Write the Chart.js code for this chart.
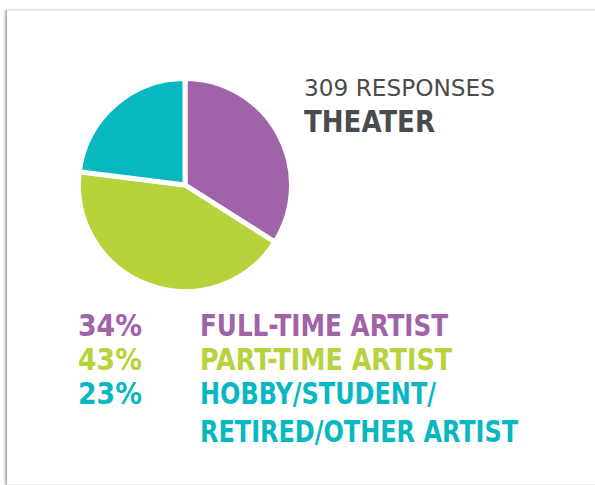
<!DOCTYPE html>
<html>
<head>
<meta charset="utf-8">
<script src="https://cdn.jsdelivr.net/npm/chart.js@4.4.0/dist/chart.umd.min.js"></script>
<style>
  html, body { margin: 0; padding: 0; background: #fff; }
  body { width: 595px; height: 485px; position: relative; overflow: hidden; }
  .card {
    position: absolute; left: 7px; top: 10px; width: 620px; height: 473px;
    background: #fff; border-top: 1px solid #eee; border-bottom: 1px solid #eee;
    box-shadow: -2px 0 2px rgba(0,0,0,0.35);
  }
  .txt { position: absolute; white-space: nowrap; line-height: 1; transform-origin: 0 50%;
         font-family: "DejaVu Sans Condensed", "DejaVu Sans", sans-serif; font-stretch: condensed; }
  #pieBox { position: absolute; left: 76px; top: 76px; width: 218px; height: 218px; }
</style>
</head>
<body>
<div class="card"></div>
<div id="pieBox"><canvas id="pie" width="218" height="218"></canvas></div>
<div class="txt" id="responses" data-w="191" style="left:304px; top:77px; font-size:23px; color:#4b4b4d;"></div>
<div class="txt" id="title" data-w="131" style="left:304px; top:106px; font-size:31px; font-weight:bold; color:#4b4b4d;"></div>
<div id="legend"></div>

<script>
// chart data
const responses = 309;
const discipline = 'THEATER';
const categories = ['FULL-TIME ARTIST', 'PART-TIME ARTIST', ['HOBBY/STUDENT/', 'RETIRED/OTHER ARTIST']];
const shares = [34, 43, 23];
const colors = ['#a063a8', '#b7d33c', '#08b8c1'];

document.getElementById('responses').textContent = responses + ' RESPONSES';
document.getElementById('title').textContent = discipline;

// legend rows built from the arrays
const legend = document.getElementById('legend');
const rowTops = [311, 345, 379];
const labelWidths = [[248], [252], [236, 318]];
categories.forEach((cat, i) => {
    const pct = document.createElement('div');
    pct.className = 'txt';
    pct.dataset.w = 64;
    pct.style.cssText = `left:78px; top:${rowTops[i]}px; font-size:30px; font-weight:bold; color:${colors[i]};`;
    pct.textContent = shares[i] + '%';
    legend.appendChild(pct);

    const lines = Array.isArray(cat) ? cat : [cat];
    lines.forEach((line, j) => {
        const lab = document.createElement('div');
        lab.className = 'txt';
        lab.dataset.w = labelWidths[i][j];
        lab.style.cssText = `left:200px; top:${rowTops[i] + j * 38}px; font-size:30px; font-weight:bold; color:${colors[i]};`;
        lab.textContent = line;
        legend.appendChild(lab);
    });
});

// squeeze / stretch text to the condensed face of the original
document.querySelectorAll('.txt').forEach(el => {
    const w = el.getBoundingClientRect().width;
    if (el.dataset.w && w > 0) {
        el.style.transform = `scaleX(${el.dataset.w / w})`;
    }
});

var ctx = document.getElementById('pie').getContext('2d');
var pieChart = new Chart(ctx, {
    type: 'pie',
    data: {
        labels: categories,
        datasets: [{
            data: shares,
            backgroundColor: colors,
            borderColor: '#ffffff',
            borderWidth: 5
        }]
    },
    options: {
        responsive: false,
        animation: false,
        layout: { padding: 0 },
        plugins: {
            legend: { display: false },
            tooltip: { enabled: false }
        }
    }
});
</script>
</body>
</html>
